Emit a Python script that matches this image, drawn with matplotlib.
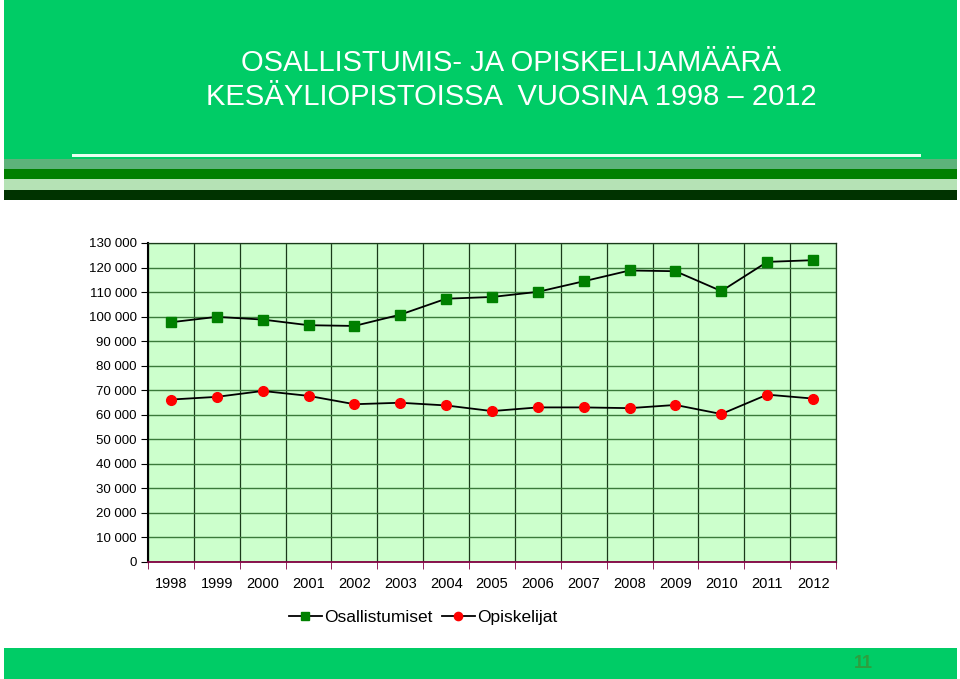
import matplotlib
matplotlib.use("Agg")
import matplotlib.pyplot as plt
from matplotlib.patches import Rectangle
from matplotlib.ticker import FuncFormatter, MultipleLocator

plt.rcParams['font.family'] = ['Liberation Sans', 'DejaVu Sans']

# data
years = ['1998', '1999', '2000', '2001', '2002', '2003', '2004', '2005',
         '2006', '2007', '2008', '2009', '2010', '2011', '2012']
osallistumiset = [97700, 99900, 98800, 96500, 96200, 100800, 107300, 108000,
                  110100, 114400, 118800, 118500, 110400, 122300, 123000]
opiskelijat = [66200, 67300, 69700, 67700, 64300, 64900, 63800, 61500,
               63000, 63000, 62700, 64000, 60300, 68200, 66600]

W, H = 960, 679
fig = plt.figure(figsize=(W / 100, H / 100), dpi=100)
fig.patch.set_facecolor('white')


def band(x0, y0, x1, y1, color):
    # pixel box (top-left origin) -> figure fraction
    fig.patches.append(Rectangle((x0 / W, 1 - y1 / H), (x1 - x0) / W, (y1 - y0) / H,
                                 transform=fig.transFigure, facecolor=color,
                                 edgecolor='none', zorder=0))


# header banner and stripes
band(4, 0, 957, 159, '#00cc66')
band(72, 154, 921, 157, '#e8fff0')
band(4, 159, 957, 169, '#5db37a')
band(4, 169, 957, 179, '#008000')
band(4, 179, 957, 190, '#b5e2b5')
band(4, 190, 957, 200, '#003300')
# footer band
band(4, 648, 957, 679, '#00cc66')

fig.text(511 / W, 1 - 63 / H, 'OSALLISTUMIS- JA OPISKELIJAMÄÄRÄ',
         ha='center', va='center', color='white', fontsize=21)
fig.text(511 / W, 1 - 97 / H, 'KESÄYLIOPISTOISSA  VUOSINA 1998 – 2012',
         ha='center', va='center', color='white', fontsize=21)
fig.text(863 / W, 1 - 664 / H, '11', ha='center', va='center',
         color='#2e9e3e', fontsize=13, fontweight='bold')

# chart
ax = fig.add_axes([148 / W, 1 - 562 / H, (836 - 148) / W, (562 - 243) / H])
ax.set_facecolor('#ccffcc')
x = list(range(len(years)))
ax.plot(x, osallistumiset, color='black', lw=1.3, marker='s', ms=7,
        mfc='#008000', mec='#008000', label='Osallistumiset', zorder=5)
ax.plot(x, opiskelijat, color='black', lw=1.3, marker='o', ms=7,
        mfc='#ff0000', mec='#ff0000', label='Opiskelijat', zorder=5)

ax.set_xlim(-0.5, len(years) - 0.5)
ax.set_ylim(0, 130000)
ax.yaxis.set_major_locator(MultipleLocator(10000))
ax.yaxis.set_major_formatter(FuncFormatter(lambda v, p: f'{int(v):,}'.replace(',', ' ')))
ax.set_xticks(x)
ax.set_xticklabels(years)
ax.set_xticks([i - 0.5 for i in range(len(years) + 1)], minor=True)
ax.tick_params(axis='x', which='major', length=0, pad=11, labelsize=10.5)
ax.tick_params(axis='x', which='minor', length=5, color='#800040', direction='out')
ax.tick_params(axis='y', length=5, labelsize=9.5, direction='out', pad=3)

ax.grid(True, axis='y', color='#3a7a3a', lw=1.0)
ax.grid(True, axis='x', which='minor', color='#1a3a1a', lw=0.9)
ax.set_axisbelow(True)
for s in ['top', 'right']:
    ax.spines[s].set_color('#1a3a1a')
    ax.spines[s].set_linewidth(0.9)
ax.spines['left'].set_color('black')
ax.spines['left'].set_linewidth(1.5)
ax.spines['bottom'].set_color('#800040')
ax.spines['bottom'].set_linewidth(1.3)

ax.legend(loc='upper center', bbox_to_anchor=(0.4, -0.1), ncol=2, frameon=False,
          fontsize=12.5, handlelength=1.9, handletextpad=0.15, columnspacing=0.5,
          markerscale=0.85)

fig.savefig('out.png', dpi=100)
